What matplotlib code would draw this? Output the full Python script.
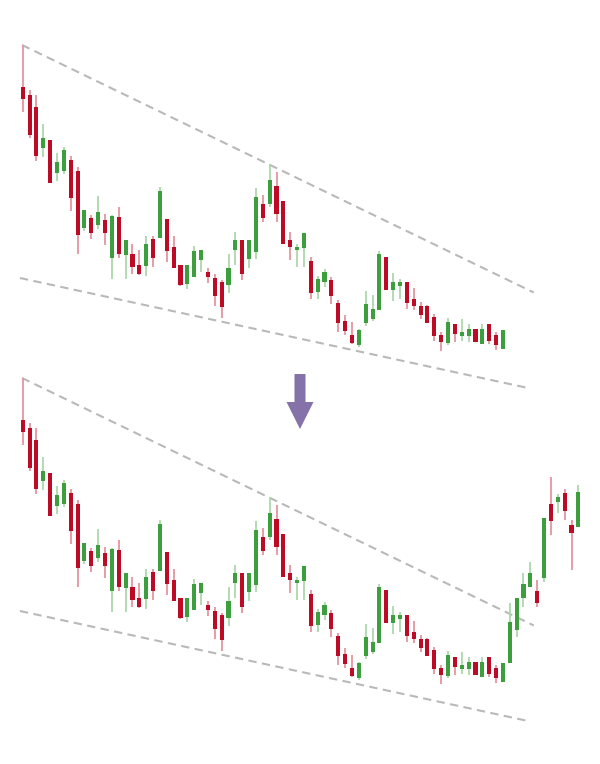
import matplotlib
matplotlib.use("Agg")
import matplotlib.pyplot as plt
import matplotlib.patches as mpatches
import numpy as np

# candle prices (arbitrary units)
opens = [330, 322.3, 310, 269, 277, 244, 246.3, 256.7, 246, 189, 199, 192.3, 196.7, 159.3, 200, 161.7,
         162.7, 151.7, 151.3, 178, 179.3, 198, 170, 152, 133.3, 140, 156.7, 145, 139, 135, 132.3, 167.3,
         177.3, 158.3, 165, 212.7, 213.3, 230.7, 216, 177.3, 166.7, 169.3, 156, 125, 135, 136.7, 114, 95.7,
         82.3, 71.7, 94.3, 98.3, 106.7, 160, 127.3, 131.3, 135.3, 118, 110.7, 110.7, 100, 82.3, 74.3, 92.7,
         80.7, 81.3, 88, 73.3, 92.7, 81.7, 68.3, 86.7, 120, 151.7, 162.7, 159.3, 171.7, 245.7, 247.7, 257.3,
         225, 222.7]
highs = [372.3, 326.7, 322.3, 293.3, 277, 264, 269.7, 261, 249.7, 207.3, 202.3, 221, 203.3, 201.7, 210, 177,
         172.7, 166.7, 180.7, 180.7, 230, 198.3, 180.7, 152, 152, 170.7, 167.3, 149, 143.3, 137.3, 163, 185,
         177.3, 176.7, 229.3, 221.7, 252.7, 245, 216, 185, 173.3, 184, 160, 140.7, 148.3, 140, 116.7, 101.7,
         95, 88, 125.7, 121.7, 166, 160, 144, 137.7, 135.3, 129, 114.7, 111.7, 102.7, 85, 99.3, 92.7,
         98.3, 92.7, 88, 92.7, 92.7, 85, 87, 147.3, 151.7, 176.7, 188.3, 170, 231.7, 273.3, 256, 260.7,
         230, 265]
lows = [305, 279.3, 256.3, 260, 234.3, 236.3, 243.3, 205.7, 162.7, 185.7, 178, 187.7, 171.7, 137.7, 159, 138.3,
        142.7, 142, 140.7, 150, 179.3, 154.7, 149.3, 130.7, 128.3, 140, 145, 134, 110.7, 99.3, 124.3, 151.7,
        137.3, 149.3, 158.3, 195, 210, 195, 173.3, 157.3, 150, 150, 118.3, 118.3, 130, 113.3, 85, 81.7,
        73.3, 70, 90.7, 96, 106.7, 126.7, 116, 118.3, 108.3, 106.7, 98.3, 94.3, 75.7, 66, 71.7, 75,
        76, 75, 75, 73.3, 72.7, 66.7, 68.3, 86.7, 112.7, 143.3, 162.7, 143.3, 168.3, 215, 237.3, 230,
        180, 222.7]
closes = [318.3, 281.7, 261, 279.3, 234.3, 255, 266.7, 219, 182, 206.7, 184.3, 205, 184.3, 201, 162.7, 177,
          150, 142.7, 173.3, 158.7, 226, 166, 149.3, 131.7, 152, 166, 167.3, 140, 121, 110, 149, 176.7,
          143, 176.7, 220, 199.3, 236.7, 202.7, 173.3, 170, 170, 184, 124, 138, 145, 120.7, 94, 85.7,
          74.3, 87.3, 112.7, 107.7, 162.7, 126.7, 134.7, 134.7, 114, 110.7, 101.7, 94.3, 81, 75, 94.7, 82.7,
          85, 88, 75, 87.7, 76, 71.7, 86.7, 128.3, 151.7, 166, 176.7, 147.3, 231.7, 229, 252.7, 239.3,
          217.3, 258]
n_before = 71  # candles shown in the upper chart

# dashed channel lines: (index, price) end points
upper_line_x = [-0.1, 74.5]
upper_line_y = [372, 124.5]
lower_line_x = [-0.4, 74.0]
lower_line_y = [139, 28.5]

RED = "#bd0b25"
GREEN = "#3d9e3d"
RED_WICK = "#e4959f"
GREEN_WICK = "#acd8ac"
LINE = "#b9b9b9"
ARROW = "#8572a8"

fig = plt.figure(figsize=(6.0, 7.64), dpi=100)
W, H = 600, 764
step, x0 = 6.86, 22.7
xlim = (-x0 / step, (W - x0) / step)

ax_top = fig.add_axes([0, 364 / H, 1, 400 / H])
ax_bot = fig.add_axes([0, 0, 1, 404 / H])
ax_top.set_ylim(17, 417)
ax_bot.set_ylim(-14, 390)


def candles(ax, n):
    o = np.array(opens[:n]); h = np.array(highs[:n])
    l = np.array(lows[:n]); c = np.array(closes[:n])
    x = np.arange(n)
    up = c >= o
    wick_cols = [GREEN_WICK if u else RED_WICK for u in up]
    body_cols = [GREEN if u else RED for u in up]
    ax.vlines(x, l, h, colors=wick_cols, lw=1.3, zorder=2)
    ax.bar(x, np.maximum(np.abs(c - o), 2.5), bottom=np.minimum(o, c), width=0.6,
           color=body_cols, zorder=3, linewidth=0)
    ax.plot(upper_line_x, upper_line_y, color=LINE, lw=1.5, dashes=(4, 2.6), zorder=1)
    ax.plot(lower_line_x, lower_line_y, color=LINE, lw=1.5, dashes=(4, 2.6), zorder=1)
    ax.set_xlim(*xlim)
    ax.axis("off")
    ax.patch.set_alpha(0)


candles(ax_top, n_before)
candles(ax_bot, len(opens))

# arrow between the two charts
arr = mpatches.FancyArrow(3.0, (H - 374) / 100, 0, -(429 - 374) / 100, width=0.11,
                          head_width=0.27, head_length=0.27, length_includes_head=True,
                          color=ARROW, lw=0, transform=fig.dpi_scale_trans)
fig.patches.append(arr)

fig.savefig("out.png", dpi=100)
